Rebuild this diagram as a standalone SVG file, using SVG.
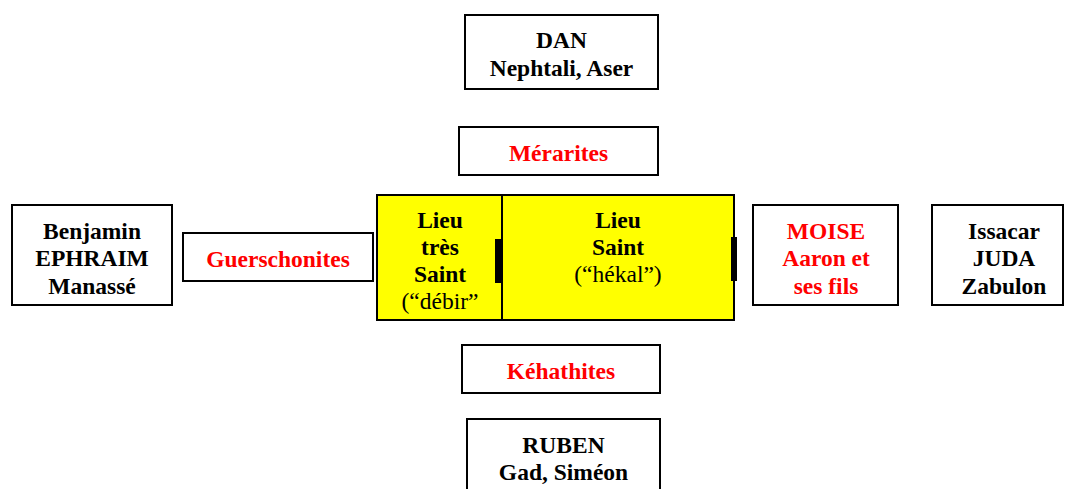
<svg xmlns="http://www.w3.org/2000/svg" width="1065" height="489" viewBox="0 0 1065 489">
<style>
.box{fill:#fff;stroke:#000;stroke-width:2}
.yel{fill:#ffff00;stroke:#000;stroke-width:2}
text{font-family:"Liberation Serif","Times New Roman",serif;font-size:23.5px;text-anchor:middle;font-weight:bold;fill:#000}
.red{fill:#ff0000}
.reg{font-weight:normal}
</style>
<rect width="1065" height="489" fill="#fff"/>
<g id="dan"><rect class="box" x="465" y="15" width="193" height="74"/><text x="561.5" y="48">DAN</text><text x="561.5" y="76">Nephtali, Aser</text></g>
<g id="merarites"><rect class="box" x="459" y="127" width="199" height="48"/><text class="red" x="558.5" y="161">Mérarites</text></g>
<g id="benjamin"><rect class="box" x="12" y="205" width="160" height="100"/><text x="92" y="239">Benjamin</text><text x="92" y="266">EPHRAIM</text><text x="92" y="294">Manassé</text></g>
<g id="guerschonites"><rect class="box" x="183" y="233" width="190" height="48"/><text class="red" x="278" y="267">Guerschonites</text></g>
<g id="sanctuaire">
<rect class="yel" x="377" y="195" width="357" height="125"/>
<line x1="502" y1="195" x2="502" y2="320" stroke="#000" stroke-width="2"/>
<rect x="495" y="239" width="6" height="44" fill="#000"/>
<rect x="731" y="237" width="6" height="44" fill="#000"/>
<text x="440" y="228">Lieu</text><text x="440" y="255">très</text><text x="440" y="282">Saint</text><text class="reg" x="440" y="309">(“débir”</text>
<text x="618" y="228">Lieu</text><text x="618" y="255">Saint</text><text class="reg" x="618" y="282">(“hékal”)</text>
</g>
<g id="moise"><rect class="box" x="753" y="205" width="145" height="100"/><text class="red" x="826" y="239">MOISE</text><text class="red" x="826" y="266">Aaron et</text><text class="red" x="826" y="294">ses fils</text></g>
<g id="issacar"><rect class="box" x="932" y="205" width="131" height="100"/><text x="1004" y="239">Issacar</text><text x="1004" y="266">JUDA</text><text x="1004" y="294">Zabulon</text></g>
<g id="kehathites"><rect class="box" x="462" y="345" width="198" height="48"/><text class="red" x="561" y="379">Kéhathites</text></g>
<g id="ruben"><rect class="box" x="467" y="419" width="193" height="80"/><text x="563.5" y="453">RUBEN</text><text x="563.5" y="480">Gad, Siméon</text></g>
<g id="connectors"></g>
</svg>
